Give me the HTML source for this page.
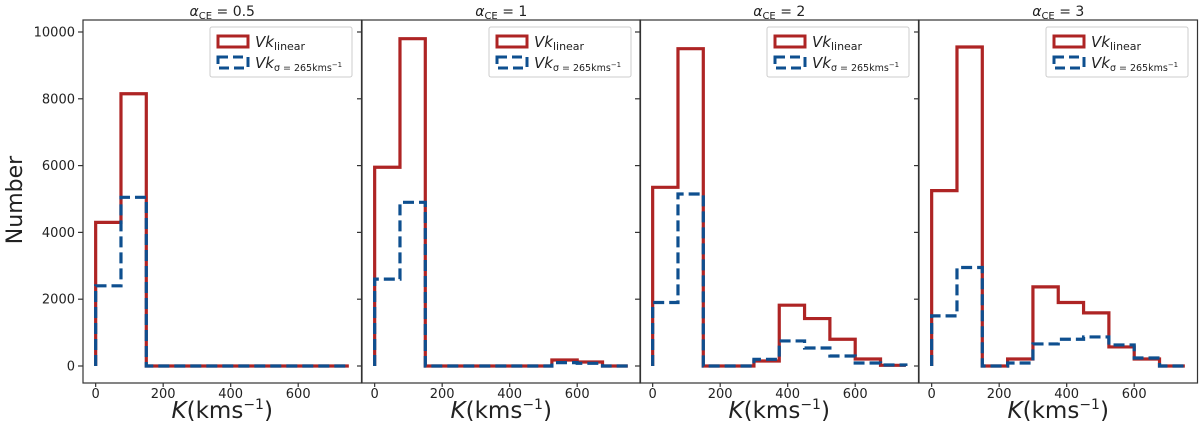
<!DOCTYPE html>
<html><head><meta charset="utf-8"><style>
body{margin:0;background:#fff;}
svg text{font-family:"DejaVu Sans","Liberation Sans",sans-serif;fill:#222;}
</style></head><body>
<svg id="chart" width="1200" height="421" viewBox="0 0 1200 421" xmlns="http://www.w3.org/2000/svg"></svg>
<script>
const binEdges = [0,75,150,225,300,375,450,525,600,675,750];
const panelTitles = ["0.5","1","2","3"];
const redSeries = [
 [4300,8150,0,0,0,0,0,0,0,0],
 [5950,9800,0,0,0,0,0,180,120,0],
 [5350,9500,0,0,150,1820,1420,800,210,20],
 [5250,9550,0,210,2370,1900,1590,570,210,0]
];
const blueSeries = [
 [2400,5050,0,0,0,0,0,0,0,0],
 [2600,4900,0,0,0,0,0,100,80,0],
 [1900,5150,0,0,200,750,540,300,90,30],
 [1500,2950,0,90,660,800,870,630,240,0]
];
const yTicks = [0,2000,4000,6000,8000,10000];
const xTicks = [0,200,400,600];

const svg = document.getElementById('chart');
const NS = 'http://www.w3.org/2000/svg';
function mk(tag, attrs, parent){const e=document.createElementNS(NS,tag);for(const k in attrs)e.setAttribute(k,attrs[k]);(parent||svg).appendChild(e);return e;}
const panelLeft=[83,362,640,919], panelW=278.5, plotTop=20, plotBottom=383;
const xmin=-37.5,xmax=787.5, ymin=-509, ymax=10359;
function yS(v){return plotBottom-(v-ymin)/(ymax-ymin)*(plotBottom-plotTop);}
function stepPath(vals,xS){
  let d='M'+xS(binEdges[0])+','+yS(0);
  for(let i=0;i<vals.length;i++){d+=' L'+xS(binEdges[i])+','+yS(vals[i])+' L'+xS(binEdges[i+1])+','+yS(vals[i]);}
  d+=' L'+xS(binEdges[binEdges.length-1])+','+yS(0);
  return d;
}
for(let p=0;p<4;p++){
  const L=panelLeft[p];
  const xS=v=>L+(v-xmin)/(xmax-xmin)*panelW;
  const g=mk('g',{});
  
  
  const red=mk('path',{d:stepPath(redSeries[p],xS),fill:'none',stroke:'#ae2424','stroke-width':3.2,'stroke-linejoin':'miter'},g);
  
  
  const blue=mk('path',{d:stepPath(blueSeries[p],xS),fill:'none',stroke:'#0e4f8f','stroke-width':3.2,'stroke-dasharray':'11,5'},g);
  
  
  const fr=mk('rect',{x:L,y:plotTop,width:panelW,height:plotBottom-plotTop,fill:'none',stroke:'#333','stroke-width':1.2},g);
  
  
  xTicks.forEach(t=>{
    mk('line',{x1:xS(t),x2:xS(t),y1:plotBottom,y2:plotBottom+4,stroke:'#333','stroke-width':1.2},g);
    const tx=mk('text',{x:xS(t),y:plotBottom+15,'text-anchor':'middle','font-size':13},g);
    tx.textContent=t;
    
    
  });
  yTicks.forEach(t=>{
    mk('line',{x1:L-5,x2:L,y1:yS(t),y2:yS(t),stroke:'#333','stroke-width':1.2},g);
    if(p===0){
      const ty=mk('text',{x:L-8,y:yS(t)+4.5,'text-anchor':'end','font-size':13},g);
      ty.textContent=t;
      
      
    }
  });
  const cx=L+panelW/2;
  const title=mk('text',{x:cx,y:16,'text-anchor':'middle','font-size':14},g);
  title.innerHTML='<tspan font-style="italic">α</tspan><tspan font-size="10" dy="3">CE</tspan><tspan dy="-3"> = '+panelTitles[p]+'</tspan>';
  
  
  const xl=mk('text',{x:cx,y:418,'text-anchor':'middle','font-size':23},g);
  xl.innerHTML='<tspan font-style="italic">K</tspan>(kms<tspan font-size="14" dy="-9">−1</tspan><tspan dy="9">)</tspan>';
  
  
  const lg=mk('g',{},g);
  
  
  const lx=L+127, ly=27;
  mk('rect',{x:lx,y:ly,width:142,height:50,fill:'#fff',stroke:'#ccc','stroke-width':1,rx:2},lg);
  mk('rect',{x:lx+8,y:ly+9,width:30,height:11,fill:'none',stroke:'#ae2424','stroke-width':3},lg);
  mk('rect',{x:lx+8,y:ly+30,width:30,height:11,fill:'none',stroke:'#0e4f8f','stroke-width':3,'stroke-dasharray':'10,5'},lg);
  const t1=mk('text',{x:lx+45,y:ly+20,'font-size':15},lg);
  t1.innerHTML='<tspan font-style="italic">Vk</tspan><tspan font-size="11" dy="3">linear</tspan>';
  
  
  const t2=mk('text',{x:lx+45,y:ly+41,'font-size':15},lg);
  t2.innerHTML='<tspan font-style="italic">Vk</tspan><tspan font-size="9.5" dy="3">σ = 265kms<tspan font-size="7" dy="-4">−1</tspan></tspan>';
  
  
}
const yl=mk('text',{x:22,y:200,'text-anchor':'middle','font-size':22,transform:'rotate(-90 22 200)'});
yl.textContent='Number';


</script>
</body></html>
